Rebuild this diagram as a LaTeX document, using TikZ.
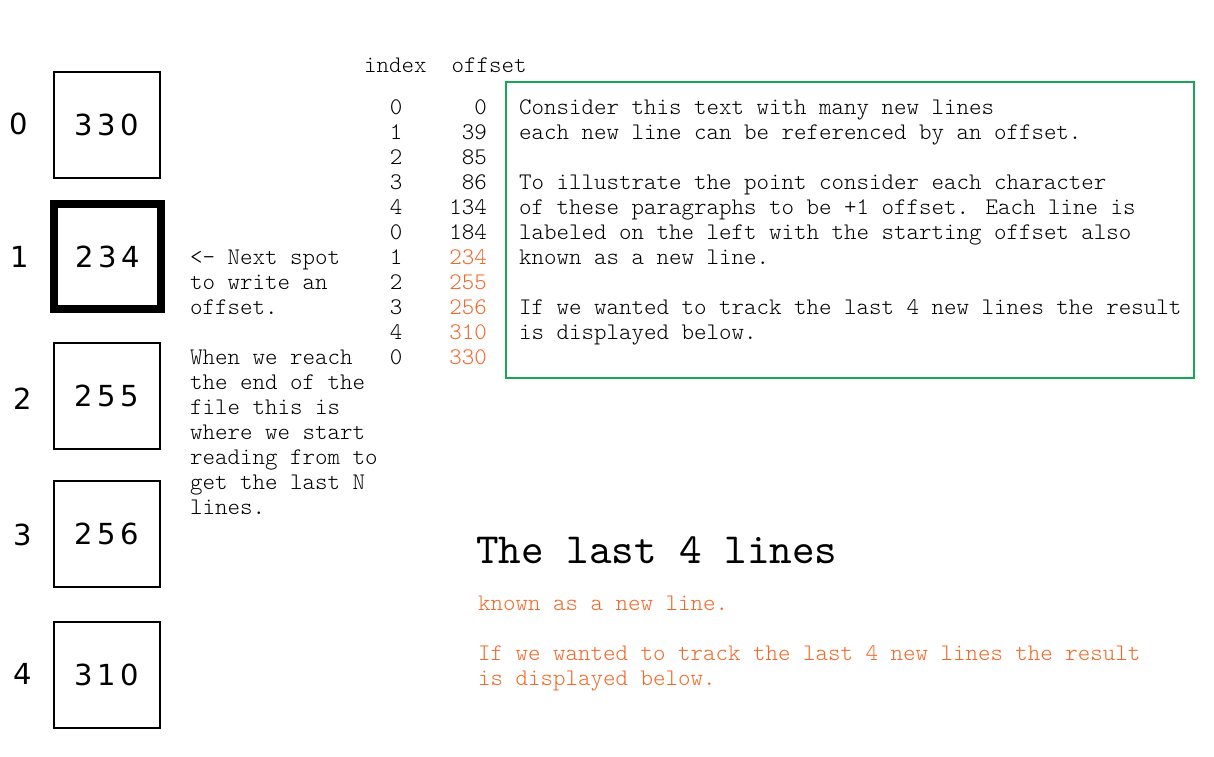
\documentclass[tikz,border=0pt]{standalone}
\usepackage{fontspec}
\setmainfont{lmmonolt10-regular}[Extension=.otf]
\newfontfamily\titlefont{lmmono10-regular}[Extension=.otf]
\newfontfamily\digfont[LetterSpace=16]{DejaVu Sans}
\newfontfamily\labfont{DejaVu Sans}
\definecolor{grn}{RGB}{22,166,84}
\definecolor{org}{RGB}{243,104,40}
\begin{document}
\begin{tikzpicture}[x=1pt,y=-1pt,
  txt/.style={anchor=base west,inner sep=0pt,font=\fontsize{23.8}{25}\selectfont},
  otxt/.style={txt,text=org},
  idx/.style={anchor=base,inner sep=0pt,font=\fontsize{23.8}{25}\selectfont},
  off/.style={anchor=base east,inner sep=0pt,font=\fontsize{23.8}{25}\selectfont},
  cell/.style={draw,line width=2pt,minimum width=106pt,minimum height=106pt,inner sep=0pt,font=\digfont\fontsize{29}{30}\selectfont},
  curcell/.style={cell,line width=8pt,minimum width=107pt,minimum height=105pt},
  lab/.style={inner sep=0pt,font=\labfont\fontsize{29}{30}\selectfont},
  title/.style={anchor=base west,inner sep=0pt,font=\titlefont\fontsize{43}{45}\selectfont}]
\useasboundingbox (0,0) rectangle (1214,756);

% circular buffer cells
\node[cell] (b0) at (107,124.5) {330};
\node[curcell] (b1) at (107.5,256.5) {234};
\node[cell] (b2) at (107,395.5) {255};
\node[cell] (b3) at (107,533.7) {256};
\node[cell] (b4) at (107,674.5) {310};

\node[lab] (l0) at (18.5,124) {0};
\node[lab] (l1) at (19.5,257) {1};
\node[lab] (l2) at (23,398.5) {2};
\node[lab] (l3) at (23,535) {3};
\node[lab] (l4) at (23,674) {4};

% notes
\node[txt] (n1) at (190,264) {<- Next spot};
\node[txt] (n2) at (190,289) {to write an};
\node[txt] (n3) at (190,314) {offset.};
\node[txt] (w1) at (190,364) {When we reach};
\node[txt] (w2) at (190,389) {the end of the};
\node[txt] (w3) at (190,414) {file this is};
\node[txt] (w4) at (190,439) {where we start};
\node[txt] (w5) at (190,464) {reading from to};
\node[txt] (w6) at (190,489) {get the last N};
\node[txt] (w7) at (190,514) {lines.};

% table
\node[txt] (hdr) at (364,72) {index\ \ offset};
\foreach \i/\o/\c [count=\k from 0] in {0/0/black,1/39/black,2/85/black,3/86/black,4/134/black,0/184/black,1/234/org,2/255/org,3/256/org,4/310/org,0/330/org}{
  \node[idx] (i\k) at (396,114+25*\k) {\i};
  \node[off,text=\c] (o\k) at (487,114+25*\k) {\o};
}

% green text box
\node[draw=grn,line width=2pt,minimum width=688pt,minimum height=296pt,inner sep=0pt] (gbox) at (850,230) {};
\node[txt] (g1) at (519,114) {Consider this text with many new lines};
\node[txt] (g2) at (519,139) {each new line can be referenced by an offset.};
\node[txt] (g4) at (519,189) {To illustrate the point consider each character};
\node[txt] (g5) at (519,214) {of these paragraphs to be +1 offset. Each line is};
\node[txt] (g6) at (519,239) {labeled on the left with the starting offset also};
\node[txt] (g7) at (519,264) {known as a new line.};
\node[txt] (g9) at (519,314) {If we wanted to track the last 4 new lines the result};
\node[txt] (g10) at (519,339) {is displayed below.};

% result
\node[title] (t) at (476,563) {The last 4 lines};
\node[otxt] (r1) at (478,610) {known as a new line.};
\node[otxt] (r2) at (478,660) {If we wanted to track the last 4 new lines the result};
\node[otxt] (r3) at (478,685) {is displayed below.};
\end{tikzpicture}
\end{document}
